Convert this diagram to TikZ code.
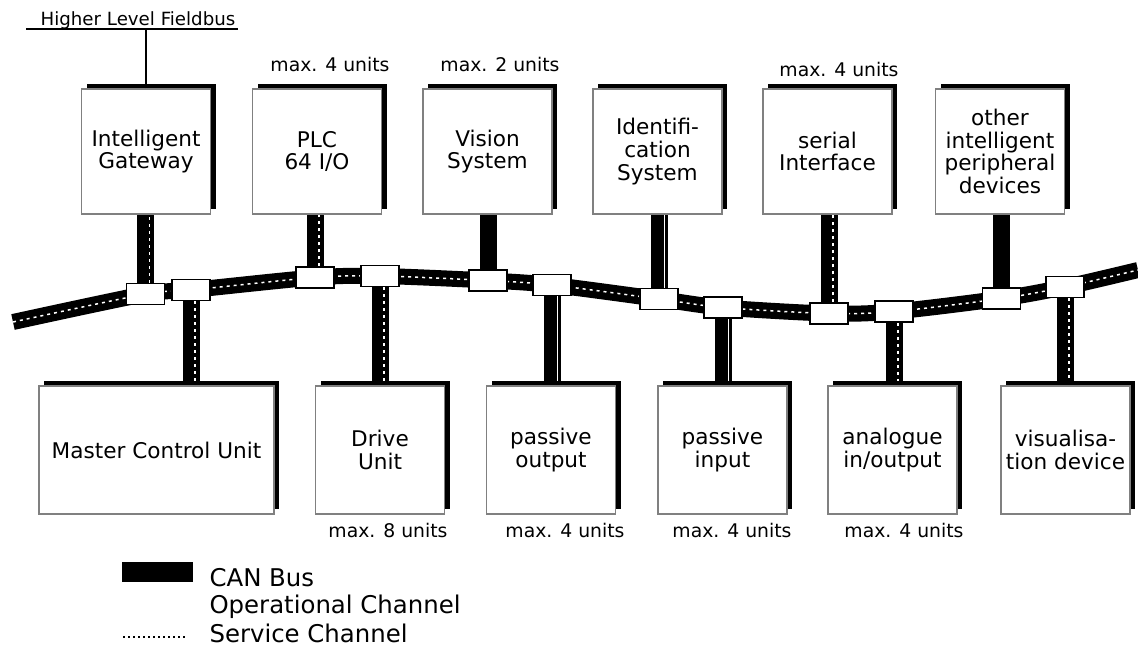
\documentclass[tikz,border=0pt]{standalone}
\usepackage{fontspec}
\setmainfont{DejaVu Sans}
\usetikzlibrary{shadows}
\pgfdeclarelayer{background}
\pgfsetlayers{background,main}

\tikzset{
  unit/.style={draw=gray, line width=1.2pt, fill=white, minimum width=129pt,
    minimum height=125pt, inner sep=0pt, align=center,
    font=\fontsize{21.6}{22.6}\selectfont,
    drop shadow={shadow xshift=5pt, shadow yshift=5pt, fill=black, opacity=1}},
  tap/.style={draw=black, line width=1.5pt, fill=white, minimum width=38pt,
    minimum height=21pt, inner sep=0pt},
  maxlbl/.style={anchor=base, font=\fontsize{18.8}{20}\selectfont},
  legtxt/.style={anchor=base west, font=\fontsize{24.4}{26}\selectfont},
  canbus/.style={black, line width=17pt},
  service/.style={white, line width=1.5pt, dash pattern=on 3pt off 4pt},
  oponly/.style={white, line width=1pt},
}

\begin{document}
\begin{tikzpicture}[x=1pt, y=-1pt]
  \useasboundingbox (0,0) rectangle (1138,646);

  % ===== upper devices =====
  \node[unit] (gate)   at (146,151.5)   {Intelligent\\Gateway};
  \node[unit] (plc)    at (317,151.5)   {PLC\\64 I/O};
  \node[unit] (vision) at (487.5,151.5) {Vision\\System};
  \node[unit] (ident)  at (657.5,151.5) {Identifi-\\cation\\System};
  \node[unit] (serial) at (827.5,151.5) {serial\\Interface};
  \node[unit] (other)  at (1000,151.5)  {other\\intelligent\\peripheral\\devices};

  \node[maxlbl] (mPlc)    at (330,71) {max. 4 units};
  \node[maxlbl] (mVision) at (500,71) {max. 2 units};
  \node[maxlbl] (mSerial) at (839,76) {max. 4 units};

  % ===== lower devices =====
  \node[unit, minimum width=235pt, minimum height=128pt] (master) at (156.5,450) {Master Control Unit};
  \node[unit, minimum height=128pt] (drive)   at (380,450)    {Drive\\Unit};
  \node[unit, minimum height=128pt] (passOut) at (551,450)    {passive\\output};
  \node[unit, minimum height=128pt] (passIn)  at (722.5,450)  {passive\\input};
  \node[unit, minimum height=128pt] (analog)  at (892.5,450)  {analogue\\in/output};
  \node[unit, minimum height=128pt] (visual)  at (1065.5,450) {visualisa-\\tion device};

  \node[maxlbl] (mDrive)   at (388,537) {max. 8 units};
  \node[maxlbl] (mPassOut) at (565,537) {max. 4 units};
  \node[maxlbl] (mPassIn)  at (732,537) {max. 4 units};
  \node[maxlbl] (mAnalog)  at (904,537) {max. 4 units};

  % ===== bus taps =====
  \node[tap] (tGate)    at (145.5,294)  {};
  \node[tap] (tMaster)  at (191,290)    {};
  \node[tap] (tPlc)     at (315,277.5)  {};
  \node[tap] (tDrive)   at (380,276)    {};
  \node[tap] (tVision)  at (488,280.5)  {};
  \node[tap] (tPassOut) at (552,285)    {};
  \node[tap] (tIdent)   at (659,299)    {};
  \node[tap] (tPassIn)  at (723,307.5)  {};
  \node[tap] (tSerial)  at (829,313.5)  {};
  \node[tap] (tAnalog)  at (894,311.5)  {};
  \node[tap] (tOther)   at (1001.5,298.5) {};
  \node[tap] (tVisual)  at (1065,287)   {};

  \coordinate (busW) at (13,322);
  \coordinate (busE) at (1138,270);

  % ===== fieldbus =====
  \node[anchor=base, font=\fontsize{18.2}{20}\selectfont] (fbus) at (138,25) {Higher Level Fieldbus};
  \coordinate (fbL) at (26,29);
  \coordinate (fbR) at (238,29);
  \draw[line width=2pt] (fbL) -- (fbR);
  \draw[line width=2pt] (gate.north) -- (gate.north |- fbL);

  \begin{pgfonlayer}{background}
    % CAN bus line
    \draw[canbus, line width=16pt] plot[smooth] coordinates {(busW) (tGate.center) (tMaster.center)
      (tPlc.center) (tDrive.center) (tVision.center) (tPassOut.center) (tIdent.center)
      (tPassIn.center) (tSerial.center) (tAnalog.center) (tOther.center) (tVisual.center) (busE)};
    \draw[service] plot[smooth] coordinates {(busW) (tGate.center) (tMaster.center)
      (tPlc.center) (tDrive.center) (tVision.center) (tPassOut.center) (tIdent.center)
      (tPassIn.center) (tSerial.center) (tAnalog.center) (tOther.center) (tVisual.center) (busE)};

    % drops up
    \foreach \tp/\dev in {tGate/gate, tPlc/plc, tVision/vision, tIdent/ident, tSerial/serial, tOther/other}
      \draw[canbus] (\tp.center) -- (\tp.center |- \dev.south);
    \foreach \tp/\dev in {tGate/gate, tPlc/plc, tSerial/serial}
      \draw[service] ([xshift=4pt]\tp.north) -- ([xshift=4pt]\tp.north |- \dev.south);
    \draw[oponly] ([xshift=5pt]tIdent.north) -- ([xshift=5pt]tIdent.north |- ident.south);

    % drops down
    \foreach \tp/\dev in {tMaster/master, tDrive/drive, tPassOut/passOut, tPassIn/passIn, tAnalog/analog, tVisual/visual}
      \draw[canbus] (\tp.center) -- (\tp.center |- \dev.north);
    \foreach \tp/\dev in {tMaster/master, tDrive/drive, tAnalog/analog, tVisual/visual}
      \draw[service] ([xshift=4pt]\tp.south) -- ([xshift=4pt]\tp.south |- \dev.north);
    \foreach \tp/\dev in {tPassOut/passOut, tPassIn/passIn}
      \draw[oponly] ([xshift=5pt]\tp.south) -- ([xshift=5pt]\tp.south |- \dev.north);
  \end{pgfonlayer}

  % ===== legend =====
  \node[fill=black, minimum width=71pt, minimum height=20pt, inner sep=0pt] (legBar) at (157.5,572) {};
  \node[legtxt] (lgCan) at (206,586) {CAN Bus};
  \node[legtxt] (lgOp)  at (206,613) {Operational Channel};
  \node[legtxt] (lgSvc) at (206,642) {Service Channel};
  \coordinate (svcA) at (123,637);
  \coordinate (svcB) at (185,637);
  \draw[black, line width=1.5pt, dash pattern=on 2pt off 3pt] (svcA) -- (svcB);
\end{tikzpicture}
\end{document}
